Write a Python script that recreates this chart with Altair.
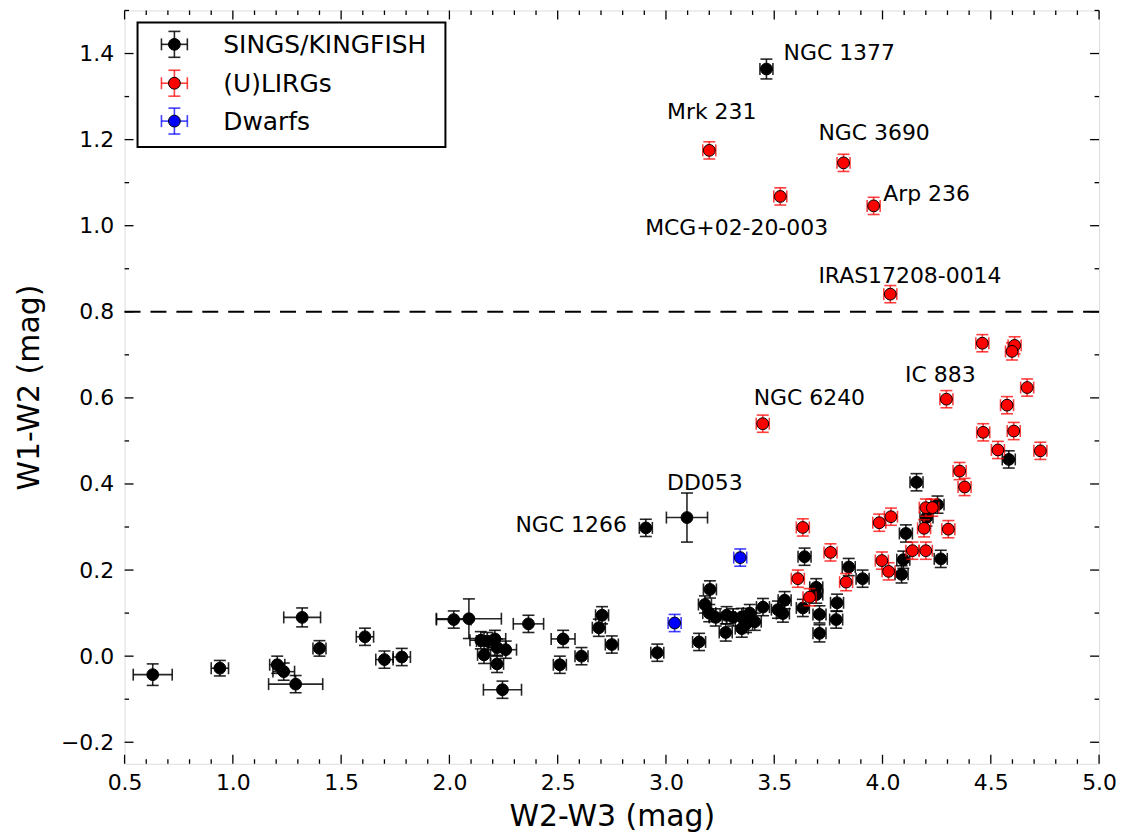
import altair as alt
import pandas as pd

# ---------------- data ----------------
sings_x = [0.63, 0.94, 1.205, 1.235, 1.29, 1.32, 1.40, 1.61, 1.70, 1.78,
           2.02, 2.09, 2.145, 2.175, 2.21, 2.16, 2.22, 2.26, 2.22, 2.245,
           2.365, 2.525, 2.51, 2.61, 2.705, 2.69, 2.75, 2.96, 2.907, 3.097,
           3.153, 3.18, 3.203, 3.20, 3.23, 3.28, 3.276, 3.31, 3.35, 3.35,
           3.37, 3.387, 3.41, 3.448, 3.517, 3.548, 3.54, 3.64, 3.632, 3.694,
           3.694, 3.709, 3.709, 3.79, 3.786, 3.844, 3.908, 4.157, 4.254, 4.203,
           4.108, 4.096, 4.088, 4.269, 4.583, 3.464]
sings_y = [-0.043, -0.028, -0.02, -0.036, -0.065, 0.09, 0.018, 0.045, -0.008, -0.002,
           0.085, 0.087, 0.037, 0.035, 0.04, 0.003, 0.02, 0.015, -0.018, -0.078,
           0.075, 0.04, -0.02, 0.0, 0.095, 0.066, 0.027, 0.008, 0.298, 0.322,
           0.033, 0.12, 0.155, 0.10, 0.09, 0.095, 0.055, 0.09, 0.091, 0.064,
           0.075, 0.10, 0.08, 0.114, 0.108, 0.13, 0.099, 0.231, 0.112, 0.16,
           0.143, 0.097, 0.053, 0.124, 0.085, 0.207, 0.18, 0.404, 0.352, 0.322,
           0.285, 0.224, 0.19, 0.226, 0.457, 1.364]
sings_xerr = [0.09, 0.04, 0.035, 0.05, 0.125, 0.085, 0.03, 0.04, 0.04, 0.04,
              0.08, 0.15, 0.05, 0.05, 0.05, 0.03, 0.04, 0.05, 0.03, 0.088,
              0.07, 0.055, 0.03, 0.03, 0.03, 0.03, 0.03, 0.03, 0.03, 0.095,
              0.03, 0.03, 0.03, 0.03, 0.03, 0.03, 0.03, 0.03, 0.03, 0.03,
              0.03, 0.03, 0.03, 0.03, 0.03, 0.03, 0.03, 0.03, 0.03, 0.03,
              0.03, 0.03, 0.03, 0.03, 0.03, 0.03, 0.03, 0.03, 0.03, 0.03,
              0.03, 0.03, 0.03, 0.03, 0.03, 0.03]
sings_yerr = [0.025, 0.018, 0.02, 0.02, 0.02, 0.022, 0.018, 0.02, 0.02, 0.02,
              0.02, 0.046, 0.02, 0.02, 0.02, 0.02, 0.02, 0.02, 0.02, 0.02,
              0.02, 0.02, 0.02, 0.02, 0.02, 0.02, 0.02, 0.02, 0.02, 0.057,
              0.02, 0.02, 0.02, 0.02, 0.02, 0.02, 0.02, 0.02, 0.02, 0.02,
              0.02, 0.02, 0.02, 0.02, 0.02, 0.02, 0.02, 0.02, 0.02, 0.02,
              0.02, 0.02, 0.02, 0.02, 0.02, 0.02, 0.02, 0.02, 0.02, 0.02,
              0.02, 0.02, 0.02, 0.02, 0.02, 0.023]

lirg_x = [3.20, 3.82, 3.528, 3.959, 4.036, 3.447, 4.295, 4.461, 4.61, 4.598,
          4.668, 4.575, 4.465, 4.606, 4.533, 4.729, 4.356, 4.379, 4.20, 4.23,
          4.192, 4.304, 3.985, 4.039, 3.632, 3.76, 4.20, 4.138, 3.997, 4.028,
          3.609, 3.663, 3.832]
lirg_y = [1.175, 1.146, 1.068, 1.046, 0.841, 0.54, 0.597, 0.727, 0.722, 0.708,
          0.624, 0.583, 0.52, 0.523, 0.479, 0.477, 0.43, 0.393, 0.345, 0.345,
          0.297, 0.295, 0.31, 0.324, 0.299, 0.241, 0.245, 0.245, 0.222, 0.197,
          0.18, 0.137, 0.172]
lirg_xerr = [0.03] * len(lirg_x)
lirg_yerr = [0.02] * len(lirg_x)

dwarf_x = [3.04, 3.343]
dwarf_y = [0.077, 0.229]
dwarf_xerr = [0.03, 0.03]
dwarf_yerr = [0.02, 0.02]

labels = ["NGC 1377", "Mrk 231", "NGC 3690", "Arp 236", "MCG+02-20-003",
          "IRAS17208-0014", "NGC 6240", "IC 883", "DD053", "NGC 1266"]
label_x = [3.543, 3.005, 3.704, 4.003, 2.904, 3.704, 3.405, 4.104, 3.005, 2.305]
label_y = [1.385, 1.248, 1.198, 1.058, 0.978, 0.868, 0.584, 0.637, 0.386, 0.289]

legend_names = ["SINGS/KINGFISH", "(U)LIRGs", "Dwarfs"]
legend_fill = ["#000000", "#ff0000", "#0000ff"]

x_major = [0.5, 1.0, 1.5, 2.0, 2.5, 3.0, 3.5, 4.0, 4.5, 5.0]
y_major = [-0.2, 0.0, 0.2, 0.4, 0.6, 0.8, 1.0, 1.2, 1.4]
x_minor = [round(0.5 + 0.1 * i, 2) for i in range(46) if i % 5 != 0]
y_minor = [round(-0.2 + 0.1 * i, 2) for i in range(1, 18) if i % 2 != 0]
threshold = [0.8]

# ---------------- layout ----------------
W, H = 978, 756
FONT = "DejaVu Sans"
xs = alt.Scale(domain=[0.5, 5.0], nice=False, zero=False)
ys = alt.Scale(domain=[-0.25, 1.5], nice=False, zero=False)

X_AXIS = alt.Axis(
    title="W2-W3 (mag)", values=x_major, format=".1f", ticks=False, domain=False,
    grid=False, labelFont=FONT, labelFontSize=22, labelColor="black",
    labelPadding=9, labelFlush=False, titleFont=FONT, titleFontSize=30,
    titleFontWeight="normal", titleColor="black", titlePadding=8)
Y_AXIS = alt.Axis(
    title="W1-W2 (mag)", values=y_major, format=".1f", ticks=False, domain=False,
    grid=False, labelFont=FONT, labelFontSize=22, labelColor="black",
    labelPadding=11, labelFlush=False, titleFont=FONT, titleFontSize=30,
    titleFontWeight="normal", titleColor="black", titlePadding=16)


def X(f):
    return alt.X(f, type="quantitative", scale=xs, axis=X_AXIS, title="W2-W3 (mag)")


def Y(f):
    return alt.Y(f, type="quantitative", scale=ys, axis=Y_AXIS, title="W1-W2 (mag)")


def frame(x, y, xe, ye):
    return pd.DataFrame({
        "x": x, "y": y,
        "xlo": [a - b for a, b in zip(x, xe)], "xhi": [a + b for a, b in zip(x, xe)],
        "ylo": [a - b for a, b in zip(y, ye)], "yhi": [a + b for a, b in zip(y, ye)],
    })


def group(df, fill, bar_color, bar_op):
    base = alt.Chart(df)
    sw = 1.6
    hb = base.mark_rule(color=bar_color, strokeWidth=sw, opacity=bar_op).encode(
        x=X("xlo"), x2="xhi", y=Y("y"))
    vb = base.mark_rule(color=bar_color, strokeWidth=sw, opacity=bar_op).encode(
        x=X("x"), y=Y("ylo"), y2="yhi")
    caps = []
    for f in ("xlo", "xhi"):
        caps.append(base.mark_tick(orient="vertical", size=12, thickness=1.6,
                                   color=bar_color, opacity=bar_op).encode(x=X(f), y=Y("y")))
    for f in ("ylo", "yhi"):
        caps.append(base.mark_tick(orient="horizontal", size=12, thickness=1.6,
                                   color=bar_color, opacity=bar_op).encode(x=X("x"), y=Y(f)))
    pts = base.mark_circle(size=140, color=fill, stroke="black", strokeWidth=1,
                           opacity=1).encode(x=X("x"), y=Y("y"))
    return [hb, vb] + caps + [pts]


sings = frame(sings_x, sings_y, sings_xerr, sings_yerr)
lirg = frame(lirg_x, lirg_y, lirg_xerr, lirg_yerr)
dwarf = frame(dwarf_x, dwarf_y, dwarf_xerr, dwarf_yerr)

layers = []

layers += group(sings, "#000000", "#000000", 0.85)

# inward ticks on all four sides
for vals, ln in [(x_major, 9), (x_minor, 4.5)]:
    d = pd.DataFrame({"v": vals})
    layers.append(alt.Chart(d).mark_rule(color="black", strokeWidth=1.3).encode(
        x=X("v"), y=alt.value(H), y2=alt.value(H - ln)))
    layers.append(alt.Chart(d).mark_rule(color="black", strokeWidth=1.3).encode(
        x=X("v"), y=alt.value(0), y2=alt.value(ln)))
for vals, ln in [(y_major, 9), (y_minor, 4.5)]:
    d = pd.DataFrame({"v": vals})
    layers.append(alt.Chart(d).mark_rule(color="black", strokeWidth=1.3).encode(
        y=Y("v"), x=alt.value(0), x2=alt.value(ln)))
    layers.append(alt.Chart(d).mark_rule(color="black", strokeWidth=1.3).encode(
        y=Y("v"), x=alt.value(W), x2=alt.value(W - ln)))

# dashed threshold
layers.append(alt.Chart(pd.DataFrame({"t": threshold})).mark_rule(
    color="black", strokeWidth=2, strokeDash=[16, 10]).encode(y=Y("t")))

layers += group(lirg, "#ff0000", "#ff0000", 0.75)
layers += group(dwarf, "#0000ff", "#0000ff", 0.75)

# annotations
ann = pd.DataFrame({"label": labels, "x": label_x, "y": label_y})
layers.append(alt.Chart(ann).mark_text(align="left", baseline="alphabetic", font=FONT,
                                       fontSize=22, color="black").encode(
    x=X("x"), y=Y("y"), text="label"))

# manual legend
one = pd.DataFrame({"a": [0]})
layers.append(alt.Chart(one).mark_rect(fill="white", stroke="black", strokeWidth=2).encode(
    x=alt.value(13), x2=alt.value(322), y=alt.value(12), y2=alt.value(137)))
leg_rows = [34, 73, 111]
mx = 50
for name, col, ry in zip(legend_names, legend_fill, leg_rows):
    c = alt.Chart(pd.DataFrame({"label": [name]}))
    op = 0.85 if col == "#000000" else 0.75
    layers.append(c.mark_rule(color=col, strokeWidth=1.6, opacity=op).encode(
        x=alt.value(mx - 13), x2=alt.value(mx + 13), y=alt.value(ry)))
    layers.append(c.mark_rule(color=col, strokeWidth=1.6, opacity=op).encode(
        x=alt.value(mx), y=alt.value(ry - 13), y2=alt.value(ry + 13)))
    for dx in (-13, 13):
        layers.append(c.mark_rule(color=col, strokeWidth=1.6, opacity=op).encode(
            x=alt.value(mx + dx), y=alt.value(ry - 6), y2=alt.value(ry + 6)))
    for dy in (-13, 13):
        layers.append(c.mark_rule(color=col, strokeWidth=1.6, opacity=op).encode(
            x=alt.value(mx - 6), x2=alt.value(mx + 6), y=alt.value(ry + dy)))
    layers.append(c.mark_circle(size=140, color=col, stroke="black", strokeWidth=1,
                                opacity=1).encode(x=alt.value(mx), y=alt.value(ry)))
    layers.append(c.mark_text(align="left", baseline="middle", font=FONT, fontSize=25,
                              color="black").encode(x=alt.value(99), y=alt.value(ry + 1),
                                                    text="label"))

chart = alt.layer(*layers).properties(
    width=W, height=H, padding={"left": 6, "top": 0, "right": 0, "bottom": 0}
).configure_view(stroke="black", strokeWidth=2).configure(background="white")

chart.save("out.html", embed_options={"renderer": "svg", "actions": False})
